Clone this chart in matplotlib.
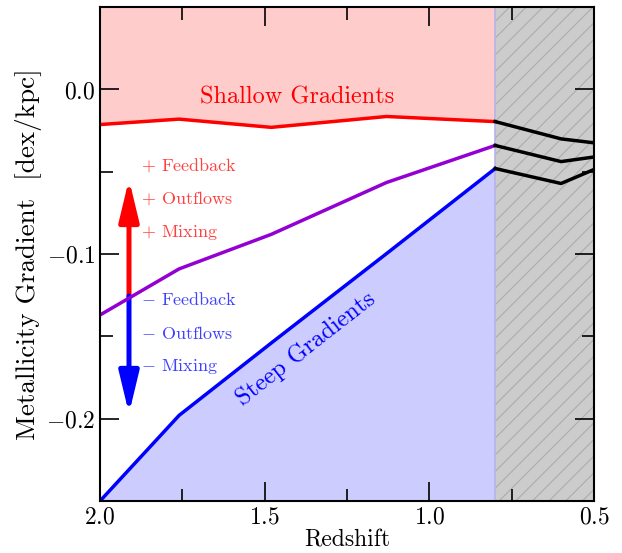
import numpy as np
import matplotlib
matplotlib.use('Agg')
import matplotlib.pyplot as plt
from matplotlib.ticker import MultipleLocator

plt.rcParams['font.family'] = 'serif'
plt.rcParams['font.serif'] = ['cmr10'] + plt.rcParams['font.serif']
plt.rcParams['mathtext.fontset'] = 'cm'
plt.rcParams['axes.formatter.use_mathtext'] = True
plt.rcParams['hatch.color'] = '#acacac'
plt.rcParams['hatch.linewidth'] = 0.8

# redshift bins and gradients
z_obs = [2.0, 1.76, 1.48, 1.13, 0.8]
shallow = [-0.0213, -0.018, -0.023, -0.0164, -0.0195]
median = [-0.137, -0.109, -0.088, -0.0565, -0.034]
steep = [-0.25, -0.198, -0.154, -0.0997, -0.048]

# low-redshift extension (no constraint)
z_low = [0.8, 0.6, 0.5]
low_top = [-0.0195, -0.030, -0.0324]
low_mid = [-0.034, -0.0438, -0.041]
low_bot = [-0.048, -0.0571, -0.0486]

fig = plt.figure(figsize=(6.22, 5.53), dpi=100)
ax = fig.add_axes([0.1608, 0.094, 0.7942, 0.893])

ax.fill_between(z_obs, shallow, 0.05, color='red', alpha=0.2, lw=0)
ax.fill_between(z_obs, steep, -0.25, color='blue', alpha=0.2, lw=0)
ax.axvspan(0.5, 0.8, facecolor='#cccccc', edgecolor='#acacac', hatch='//', lw=0, zorder=1)
ax.axvline(0.8, color='#b4b4e6', lw=1.2, zorder=1.5)

ax.plot(z_obs, shallow, color='red', lw=2.5, zorder=3)
ax.plot(z_obs, median, color='darkviolet', lw=2.5, zorder=3)
ax.plot(z_obs, steep, color='blue', lw=2.5, zorder=3)
for yy in [low_top, low_mid, low_bot]:
    ax.plot(z_low, yy, color='k', lw=2.5, zorder=3)

# arrows
astyle = '-|>,head_length=2.5,head_width=0.6'
ax.annotate('', xy=(1.912, -0.0545), xytext=(1.912, -0.1255),
            arrowprops=dict(arrowstyle=astyle, color='red', lw=3.6,
                            mutation_scale=10, shrinkA=0, shrinkB=0), zorder=2)
ax.annotate('', xy=(1.912, -0.197), xytext=(1.912, -0.1255),
            arrowprops=dict(arrowstyle=astyle, color='blue', lw=3.6,
                            mutation_scale=10, shrinkA=0, shrinkB=0), zorder=2)

plus_labels = ['Feedback', 'Outflows', 'Mixing']
for i, lab in enumerate(plus_labels):
    ax.text(1.875, -0.0458 - 0.0204 * i, '$+$ ' + lab, color='red', alpha=0.75,
            fontsize=13, va='center', ha='left')
    ax.text(1.875, -0.1277 - 0.0204 * i, '$-$ ' + lab, color='blue', alpha=0.75,
            fontsize=13, va='center', ha='left')

ax.text(1.40, -0.005, 'Shallow Gradients', color='red', fontsize=17.5,
        ha='center', va='center')
ax.text(1.374, -0.1574, 'Steep Gradients', color='blue', fontsize=17.5,
        ha='center', va='center', rotation=38)

ax.set_xlim(2.0, 0.5)
ax.set_ylim(-0.25, 0.05)
ax.xaxis.set_major_locator(MultipleLocator(0.5))
ax.xaxis.set_minor_locator(MultipleLocator(0.25))
ax.yaxis.set_major_locator(MultipleLocator(0.1))
ax.yaxis.set_minor_locator(MultipleLocator(0.05))
ax.tick_params(which='both', direction='in', top=True, right=True, labelsize=17)
ax.tick_params(which='major', length=14, width=1.2)
ax.tick_params(which='minor', length=9, width=1.2)
for sp in ax.spines.values():
    sp.set_linewidth(1.5)
    sp.set_zorder(5)

ax.set_xlabel('Redshift', fontsize=17, labelpad=1)
ax.set_ylabel('Metallicity Gradient  [dex/kpc]', fontsize=19.5, labelpad=3)

fig.savefig('out.png', dpi=100)
